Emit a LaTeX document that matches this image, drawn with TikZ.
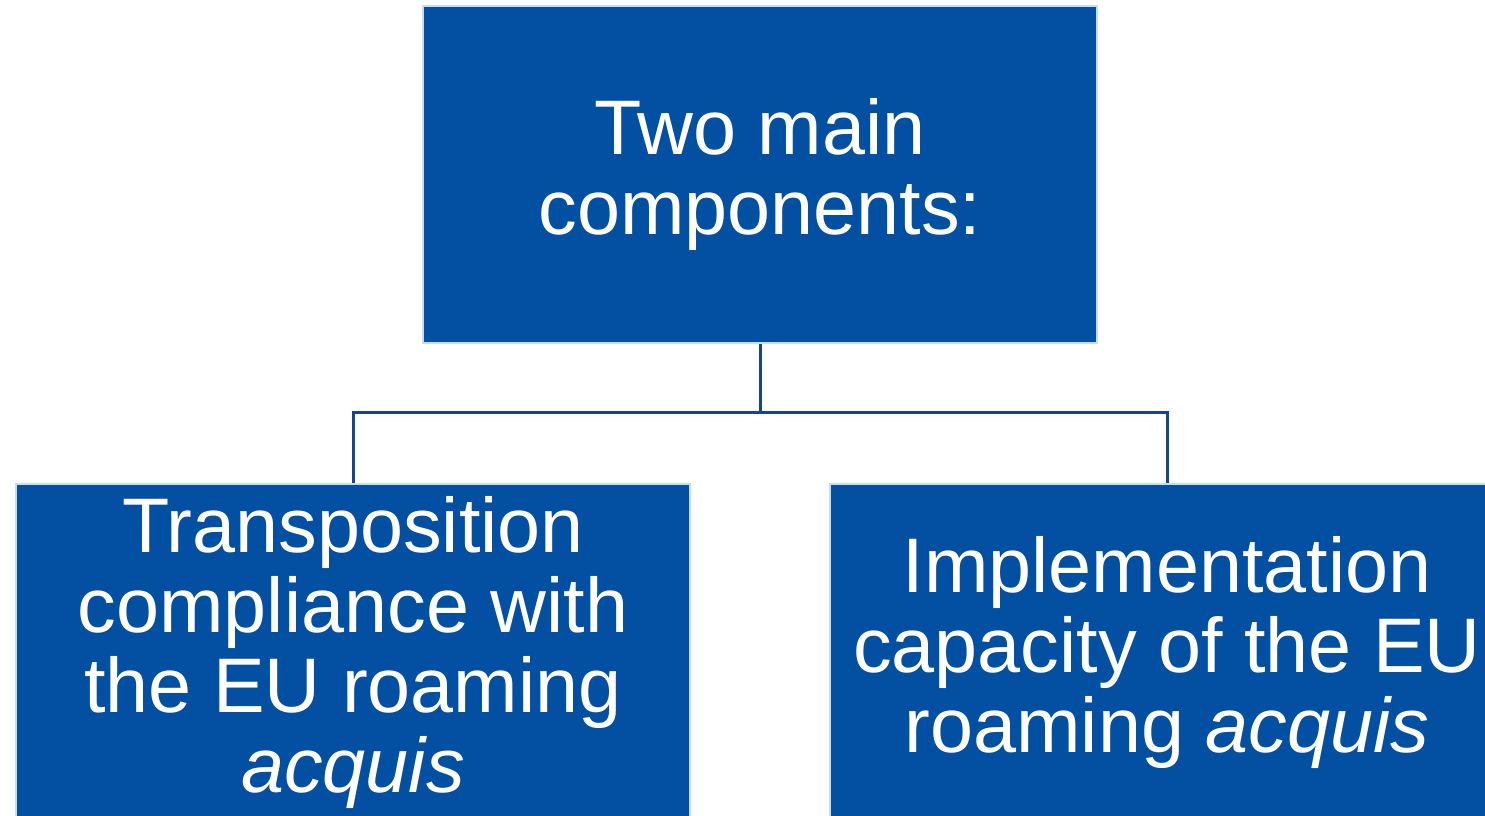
\documentclass[tikz,border=0pt]{standalone}
\usepackage{fontspec}
\setmainfont{Liberation Sans}
\definecolor{boxblue}{RGB}{3,79,162}
\definecolor{boxedge}{RGB}{200,220,240}
\definecolor{linkblue}{RGB}{22,70,135}
\tikzset{
	compbox/.style={fill=boxblue, draw=boxedge, line width=0.6pt, inner sep=0, minimum width=6.74cm, minimum height=3.37cm, align=center, text=white, font=\fontsize{22}{22.7}\selectfont},
	link/.style={draw=linkblue, line width=0.85pt}
}
\begin{document}
\begin{tikzpicture}[x=0.01cm, y=-0.01cm]
			\useasboundingbox (0,0) rectangle (1485,815);
			\node[compbox] (main) at (760,174.5) {Two main\\components:};
			\node[compbox] (transp) at (353,652.5) {Transposition\\compliance with\\the EU roaming\\\textit{acquis}};
			\node[compbox] (impl) at (1167,652.5) {Implementation\\capacity of the EU\\roaming \textit{acquis}};
			\coordinate (split) at (760,412);
			\draw[link] (main.south) -- (split) -| (transp.north);
			\draw[link] (split) -| (impl.north);
		\end{tikzpicture}
\end{document}
